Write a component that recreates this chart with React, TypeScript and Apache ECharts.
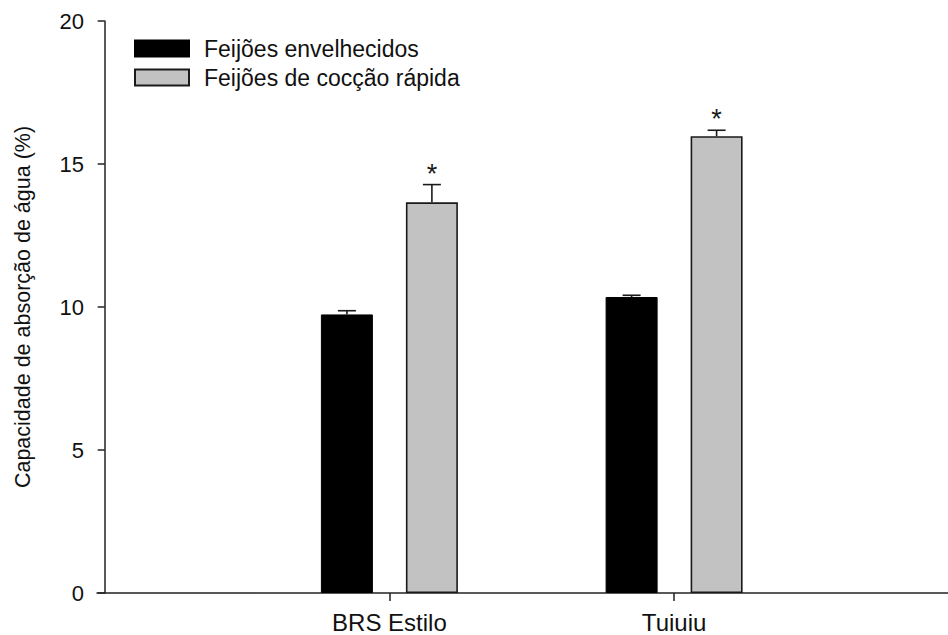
import React, { useEffect, useRef } from "react";
import * as echarts from "echarts";

const categories = ["BRS Estilo", "Tuiuiu"];
const categoryPositions = [1, 2];
const seriesNames = ["Feijões envelhecidos", "Feijões de cocção rápida"];
const agedMeans = [9.74, 10.35];
const agedErrors = [0.13, 0.06];
const quickMeans = [13.66, 15.97];
const quickErrors = [0.62, 0.21];
const quickMarks = ["*", "*"];
const yTicks = [0, 5, 10, 15, 20];

const FONT = "'Liberation Sans', Arial, sans-serif";
const BAR_W = 52;
const BAR_GAP_PX = 33;
const OFFSET = (BAR_W + BAR_GAP_PX) / 2;

function errorSeries(means: number[], errors: number[], dir: number, marks: string[] | null) {
  return {
    type: "custom",
    z: 5,
    silent: true,
    data: categoryPositions.map((p, i) => [p, means[i], errors[i], i]),
    encode: { x: 0, y: 1 },
    renderItem: (params: any, api: any) => {
      const x = api.value(0);
      const m = api.value(1);
      const e = api.value(2);
      const idx = api.value(3);
      const base = api.coord([x, m]);
      const top = api.coord([x, m + e]);
      const cx = base[0] + dir * OFFSET;
      const style = { stroke: "#1a1a1a", lineWidth: 1.6 };
      const children: any[] = [
        { type: "line", shape: { x1: cx, y1: base[1], x2: cx, y2: top[1] }, style },
        { type: "line", shape: { x1: cx - 9, y1: top[1], x2: cx + 9, y2: top[1] }, style },
      ];
      if (marks) {
        children.push({
          type: "text",
          style: {
            text: marks[idx],
            x: cx,
            y: top[1] - 11,
            align: "center",
            verticalAlign: "middle",
            fontSize: 27,
            fontFamily: FONT,
            fill: "#1a1a1a",
          },
        });
      }
      return { type: "group", children };
    },
  };
}

export default function App() {
  const ref = useRef<HTMLDivElement>(null);
  useEffect(() => {
    if (!ref.current) return;
    const chart = echarts.init(ref.current, null, { renderer: "svg" });
    chart.setOption({
      animation: false,
      backgroundColor: "#ffffff",
      textStyle: { fontFamily: FONT },
      grid: { left: 97, right: 0, top: 21, bottom: 42, containLabel: false },
      legend: {
        orient: "vertical",
        left: 129,
        top: 32,
        itemWidth: 54,
        itemHeight: 16,
        itemGap: 6,
        icon: "rect",
        textStyle: {
          fontSize: 23,
          lineHeight: 22,
          color: "#111",
          fontFamily: FONT,
          padding: [0, 0, 0, 10],
        },
        data: seriesNames,
      },
      xAxis: {
        type: "value",
        min: -0.027,
        max: 2.962,
        axisLine: { show: true, onZero: false, lineStyle: { color: "#222", width: 1.5 } },
        axisTick: { show: true, customValues: categoryPositions, length: 8, lineStyle: { color: "#222", width: 1.5 } },
        axisLabel: {
          customValues: categoryPositions,
          formatter: (v: number) => categories[categoryPositions.indexOf(v)] ?? "",
          fontSize: 24,
          color: "#111",
          margin: 17,
          fontFamily: FONT,
        },
        splitLine: { show: false },
      },
      yAxis: {
        type: "value",
        min: yTicks[0],
        max: yTicks[yTicks.length - 1],
        interval: yTicks[1] - yTicks[0],
        name: "Capacidade de absorção de água (%)",
        nameLocation: "middle",
        nameGap: 63,
        nameTextStyle: { fontSize: 21.5, color: "#111", fontFamily: FONT },
        axisLine: { show: true, lineStyle: { color: "#222", width: 1.5 } },
        axisTick: { show: true, length: 7, lineStyle: { color: "#222", width: 1.5 } },
        axisLabel: { fontSize: 22, color: "#111", margin: 13, fontFamily: FONT },
        splitLine: { show: false },
      },
      series: [
        {
          name: seriesNames[0],
          type: "bar",
          barWidth: BAR_W,
          barGap: (BAR_GAP_PX / BAR_W) * 100 + "%",
          itemStyle: { color: "#000000", borderColor: "#000000", borderWidth: 1 },
          data: categoryPositions.map((p, i) => [p, agedMeans[i]]),
        },
        {
          name: seriesNames[1],
          type: "bar",
          barWidth: BAR_W,
          barGap: (BAR_GAP_PX / BAR_W) * 100 + "%",
          itemStyle: { color: "#c2c2c2", borderColor: "#1a1a1a", borderWidth: 1.6 },
          data: categoryPositions.map((p, i) => [p, quickMeans[i]]),
        },
        errorSeries(agedMeans, agedErrors, -1, null),
        errorSeries(quickMeans, quickErrors, 1, quickMarks),
      ],
    });
    return () => chart.dispose();
  }, []);
  return (
    <div
      ref={ref}
      style={{ position: "fixed", left: 0, top: 0, width: 948, height: 635 }}
    />
  );
}
